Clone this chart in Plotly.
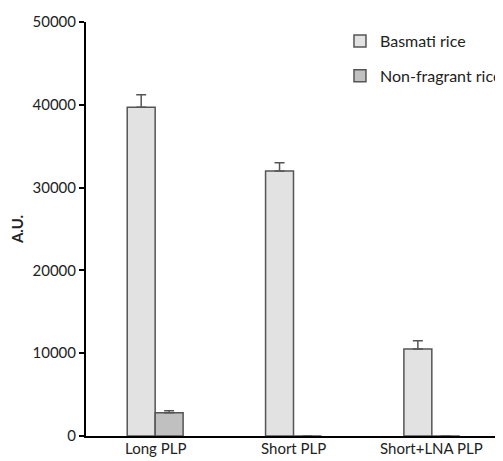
import plotly.graph_objects as go

categories = ["Long PLP", "Short PLP", "Short+LNA PLP"]
basmati = [39700, 32000, 10500]
basmati_err = [1500, 1000, 1000]
nonfragrant = [2800, 0, 0]
nonfragrant_err = [250, 0, 0]
y_ticks = [0, 10000, 20000, 30000, 40000, 50000]
y_tick_labels = ["0", "10000", "20000", "30000", "40000", "50000"]

FONT = "Lato"

fig = go.Figure()
fig.add_trace(go.Bar(
    name="Basmati rice", x=categories, y=basmati,
    marker=dict(color="#e2e2e2", line=dict(color="#555555", width=1.5)),
    error_y=dict(type="data", array=basmati_err, arrayminus=[0, 0, 0], symmetric=False,
                 color="#555555", thickness=1.5, width=5),
    legendgroup="a",
))
fig.add_trace(go.Bar(
    name="Non-fragrant rice", x=categories, y=nonfragrant,
    marker=dict(color="#c0c0c0", line=dict(color="#555555", width=1.5)),
    error_y=dict(type="data", array=nonfragrant_err, arrayminus=[0, 0, 0], symmetric=False,
                 color="#555555", thickness=1.5, width=5),
    legendgroup="b",
))

# category labels under the x axis
for c in categories:
    fig.add_annotation(x=c, xref="x", y=0, yref="paper", yanchor="top",
                       yshift=-1, text=c, showarrow=False,
                       font=dict(family=FONT, size=15, color="#222222"))

fig.update_layout(
    width=495, height=453,
    margin=dict(l=78, r=2, t=14, b=25, autoexpand=False),
    paper_bgcolor="white", plot_bgcolor="white",
    font=dict(family=FONT, size=15, color="#222222"),
    barmode="group", bargap=0.596, bargroupgap=0,
    showlegend=True,
    legend=dict(x=0.612, y=0.995, xanchor="left", yanchor="top",
                traceorder="grouped", tracegroupgap=11,
                itemwidth=30, bgcolor="rgba(0,0,0,0)",
                font=dict(family=FONT, size=16, color="#222222")),
    yaxis=dict(range=[0, 50000], tickvals=y_ticks, ticktext=y_tick_labels,
               ticks="outside", ticklen=5, automargin=False,
               tickwidth=1.5, tickcolor="black", showline=True, linecolor="black",
               linewidth=2, showgrid=False, zeroline=False,
               title=dict(text="<b>A.U.</b>", font=dict(family=FONT, size=15), standoff=8)),
    xaxis=dict(showline=True, linecolor="black", linewidth=2, ticks="",
               showticklabels=False, automargin=False,
               showgrid=False, zeroline=False),
)

fig.write_html("out.html")
